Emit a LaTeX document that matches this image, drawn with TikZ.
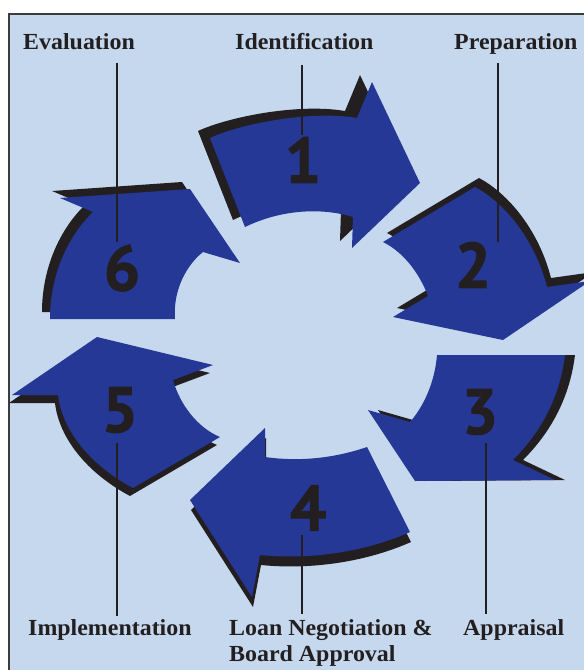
\documentclass[tikz,border=0pt]{standalone}
\usepackage{fontspec}
\newfontfamily\labfont[FakeStretch=1.04]{Liberation Serif}
\newfontfamily\numfont[FakeBold=1.6]{PT Sans}
\definecolor{bgblue}{RGB}{197,216,238}
\definecolor{arrblue}{RGB}{38,56,150}
\definecolor{shad}{RGB}{35,31,32}
\definecolor{framec}{RGB}{60,60,60}
\def\arrA{(210,138) .. controls (240,124) and (310,110) .. (357,118) -- (372,82) -- (420,183) -- (352,248) -- (353,217) .. controls (320,207) and (280,210) .. (245,227) -- cycle}
\def\arrB{(475,187) .. controls (505,203) and (535,240) .. (547,287) -- (590,281) -- (503,340) -- (393,317) -- (428,296) .. controls (420,275) and (405,253) .. (383,242) -- cycle}
\def\arrC{(437,355) -- (565,355) .. controls (560,395) and (543,430) .. (513,460) -- (555,480) -- (415,481) -- (368,410) -- (410,422) .. controls (425,405) and (435,380) .. (437,355) -- cycle}
\def\arrD{(367,447) -- (410,532) .. controls (365,552) and (310,560) .. (260,555) -- (252,597) -- (190,500) -- (265,428) -- (265,457) .. controls (300,462) and (335,458) .. (367,447) -- cycle}
\def\arrE{(97,337) -- (12,395) -- (58,395) .. controls (62,430) and (90,465) .. (133,488) -- (220,437) .. controls (198,428) and (180,405) .. (173,380) -- (213,365) -- cycle}
\def\arrF{(50,319) -- (175,319) .. controls (173,295) and (183,268) .. (203,252) -- (240,263) -- (190,189) -- (60,198) -- (93,212) .. controls (68,236) and (50,275) .. (50,319) -- cycle}
\begin{document}
\begin{tikzpicture}[x=1pt,y=-1pt,
  lab/.style={font=\labfont\bfseries\fontsize{23}{26}\selectfont, text=shad, inner sep=0pt},
  num/.style={font=\numfont\bfseries\fontsize{64}{64}\selectfont, text=shad, inner sep=0pt},
  leader/.style={draw=shad, line width=1.3pt},
  arrfill/.style={fill=arrblue},
  shadfill/.style={fill=shad}]
\useasboundingbox (0,0) rectangle (584,670);
\clip (0,0) rectangle (584,670);
\draw[fill=bgblue, draw=framec, line width=1.8pt] (9,14) rectangle (640,720);
% shadows
\fill[shadfill, shift={(-12,-7)}] \arrA;
\fill[shadfill, shift={(4,-9)}] \arrB;
\fill[shadfill, shift={(10,0)}] \arrC;
\fill[shadfill, shift={(1,10)}] \arrD;
\fill[shadfill, shift={(-3,8)}] \arrE;
\fill[shadfill, shift={(-8,-7)}] \arrF;
% arrows
\fill[arrfill] \arrA;
\fill[arrfill] \arrB;
\fill[arrfill] \arrC;
\fill[arrfill] \arrD;
\fill[arrfill] \arrE;
\fill[arrfill] \arrF;
% labels
\node[lab, anchor=base west] (l6) at (23,49.5) {Evaluation};
\node[lab, anchor=base west] (l1) at (235,49.5) {Identification};
\node[lab, anchor=base west] (l2) at (454,49.5) {Preparation};
\node[lab, anchor=base west] (l5) at (28,635) {Implementation};
\node[lab, anchor=base west] (l4) at (229,635) {\begin{tabular}[t]{@{}l@{}}Loan Negotiation \&\\Board Approval\end{tabular}};
\node[lab, anchor=base west] (l3) at (463,635) {Appraisal};
% numbers
\node[num] (n1) at (303,160) {1};
\node[num] (n2) at (473,265) {2};
\node[num] (n3) at (480,412) {3};
\node[num] (n4) at (308,508) {4};
\node[num] (n5) at (120,410) {5};
\node[num] (n6) at (122,268) {6};
% leader lines
\coordinate (t6) at (117,63);  \coordinate (e6) at (117,242);
\coordinate (t1) at (302,65);  \coordinate (e1) at (302,135);
\coordinate (t2) at (498,63);  \coordinate (e2) at (498,242);
\coordinate (t5) at (117,616); \coordinate (e5) at (117,443);
\coordinate (t4) at (302,614); \coordinate (e4) at (302,535);
\coordinate (t3) at (486,614); \coordinate (e3) at (486,443);
\draw[leader] (t6) -- (e6);
\draw[leader] (t1) -- (e1);
\draw[leader] (t2) -- (e2);
\draw[leader] (t5) -- (e5);
\draw[leader] (t4) -- (e4);
\draw[leader] (t3) -- (e3);
\end{tikzpicture}
\end{document}
